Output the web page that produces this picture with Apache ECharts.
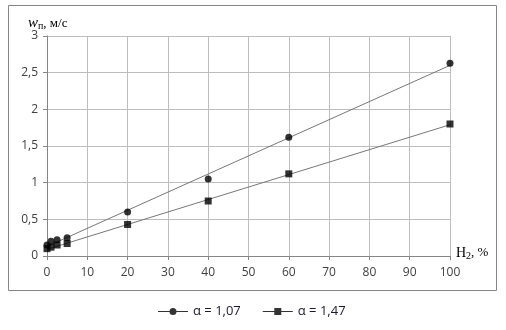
<!DOCTYPE html>
<html>
<head>
<meta charset="utf-8">
<script src="https://cdn.jsdelivr.net/npm/echarts@6/dist/echarts.min.js"></script>
<style>
html,body{margin:0;padding:0;background:#fff;}
#chart{width:506px;height:330px;}
</style>
</head>
<body>
<div id="chart"></div>
<script>
// data
var names = ['α = 1,07', 'α = 1,47'];
var h2 = [0, 1, 2.5, 5, 20, 40, 60, 100];
var w107 = [0.15, 0.2, 0.22, 0.25, 0.6, 1.05, 1.62, 2.63];
var w147 = [0.1, 0.12, 0.15, 0.17, 0.43, 0.75, 1.12, 1.8];
// trend lines (ends at H2 = 0 and 100)
var trendX = [0, 100];
var trend107 = [0.13, 2.6];
var trend147 = [0.09, 1.79];

function pairs(xs, ys){
	var out = [];
	for(var i=0;i<xs.length;i++){
		out.push([xs[i], ys[i]]);
	}
	return out;
}

var myChart = echarts.init(document.getElementById('chart'), null, {renderer:'canvas'});
var labelFont = {color:'#404040', fontSize:12, fontFamily:'Open Sans'};
var gridLine = {lineStyle:{color:'#bdbdbd', width:1}};
var axisLine = {lineStyle:{color:'#868686', width:1}};

var option = {
	animation:false,
	backgroundColor:'#fff',
	grid:{left:47, right:56, top:36, bottom:74},
	xAxis:{
		type:'value', min:0, max:100, interval:10,
		axisLine:axisLine,
		axisTick:{show:true, length:4, lineStyle:{color:'#868686'}},
		splitLine:gridLine,
		axisLabel:{margin:11, color:labelFont.color, fontSize:labelFont.fontSize, fontFamily:labelFont.fontFamily}
	},
	yAxis:{
		type:'value', min:0, max:3, interval:0.5,
		axisLine:{show:true, lineStyle:axisLine.lineStyle},
		axisTick:{show:true, length:4, lineStyle:{color:'#868686'}},
		splitLine:gridLine,
		axisLabel:{
			margin:9, color:labelFont.color, fontSize:labelFont.fontSize, fontFamily:labelFont.fontFamily,
			formatter:function(v){ return String(v).replace('.', ','); }
		}
	},
	legend:{
		left:153, top:300, itemGap:22, itemWidth:30, itemHeight:8,
		textStyle:{color:'#1a1a2e', fontSize:13, fontFamily:'Open Sans'},
		data:[
			{name:names[0], icon:'path://M0,3.5H30V4.5H0Z M18.5,4A3.5,3.5,0,1,1,11.5,4A3.5,3.5,0,1,1,18.5,4Z'},
			{name:names[1], icon:'path://M0,3.5H30V4.5H0Z M11.5,0.5H18.5V7.5H11.5Z'}
		]
	},
	graphic:[
		{type:'rect', shape:{x:8.5, y:5.5, width:488, height:285}, style:{fill:null, stroke:'#868686', lineWidth:1}, silent:true},
		{type:'text', left:28, top:16, style:{
			text:'{w|w}{s|п}{t|, м/с}',
			rich:{
				w:{fontFamily:'Liberation Serif', fontStyle:'italic', fontSize:15, fill:'#000'},
				s:{fontFamily:'Liberation Serif', fontSize:10, fill:'#000', padding:[6,0,0,0]},
				t:{fontFamily:'Liberation Serif', fontSize:13, fill:'#000'}
			}
		}},
		{type:'text', left:456, top:246, style:{
			text:'{h|H}{s|2}{t|, %}',
			rich:{
				h:{fontFamily:'Liberation Serif', fontSize:14, fill:'#000'},
				s:{fontFamily:'Liberation Serif', fontSize:10, fill:'#000', padding:[6,0,0,0]},
				t:{fontFamily:'Liberation Serif', fontSize:13, fill:'#000'}
			}
		}}
	],
	series:[
		{
			name:'trend1', type:'line', data:pairs(trendX, trend107), symbol:'none', silent:true,
			lineStyle:{color:'#777777', width:1}, z:2
		},
		{
			name:'trend2', type:'line', data:pairs(trendX, trend147), symbol:'none', silent:true,
			lineStyle:{color:'#777777', width:1}, z:2
		},
		{
			name:names[0], type:'scatter', data:pairs(h2, w107),
			symbol:'circle', symbolSize:7, itemStyle:{color:'#000'}, z:3
		},
		{
			name:names[1], type:'scatter', data:pairs(h2, w147),
			symbol:'rect', symbolSize:7, itemStyle:{color:'#000'}, z:3
		}
	]
};
myChart.setOption(option);
</script>
</body>
</html>
